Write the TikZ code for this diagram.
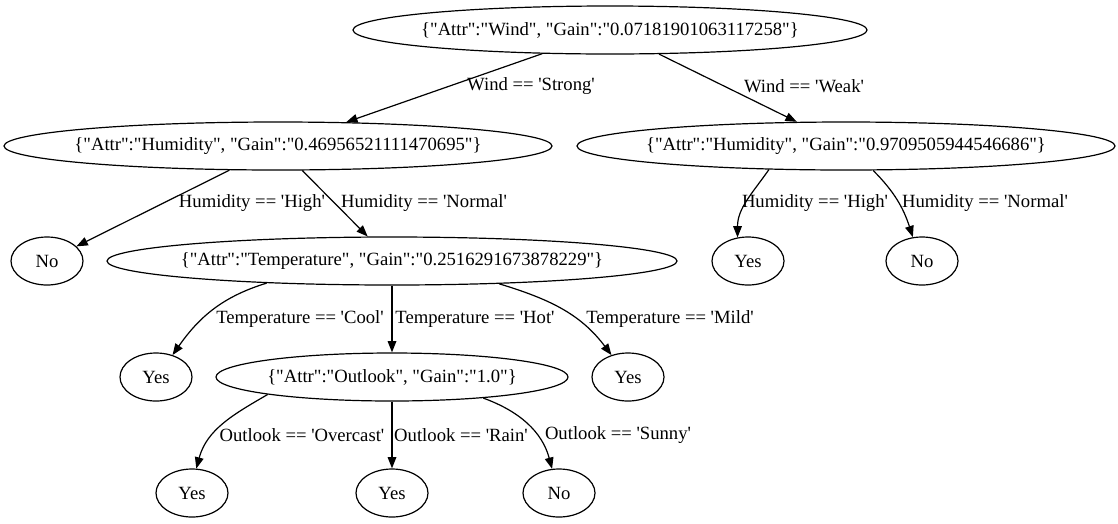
\documentclass[tikz,border=0pt]{standalone}
\usepackage{fontspec}
\setmainfont[Ligatures=TeXOff]{Liberation Serif}
\usetikzlibrary{arrows.meta, shapes.geometric}

\begin{document}
\begin{tikzpicture}[
    x=0.75bp, y=-0.75bp,
    every node/.style={font=\rmfamily\fontsize{14bp}{16bp}\selectfont}, % Times-like text
    split/.style={draw, ellipse, line width=0.9bp, inner xsep=-40bp, inner ysep=0pt,
                  minimum height=36bp, minimum width=#1}, % attribute node
    leaf/.style={split=54bp}, % Yes / No
    cond/.style={inner sep=0pt}, % branch condition
    branch/.style={line width=0.9bp, -{Triangle[length=8.5bp, width=6.5bp]}}
]
    \useasboundingbox (0,0) rectangle (1118,523);

    % 1. attribute nodes
    \node[split=385.5bp] (wind) at (610,30) {\{"Attr":"Wind", "Gain":"0.07181901063117258"\}};
    \node[split=411bp] (humL) at (278,146) {\{"Attr":"Humidity", "Gain":"0.46956521111470695"\}};
    \node[split=403.5bp] (humR) at (846,146) {\{"Attr":"Humidity", "Gain":"0.9709505944546686"\}};
    \node[split=427.5bp] (temp) at (392,261) {\{"Attr":"Temperature", "Gain":"0.2516291673878229"\}};
    \node[split=264bp] (outlook) at (392,377) {\{"Attr":"Outlook", "Gain":"1.0"\}};

    % 2. leaves
    \node[leaf] (noHL) at (47,261) {No};
    \node[leaf] (yesHR) at (748,261) {Yes};
    \node[leaf] (noHR) at (922,261) {No};
    \node[leaf] (yesCool) at (156,377) {Yes};
    \node[leaf] (yesMild) at (628,377) {Yes};
    \node[leaf] (yesOver) at (192,493) {Yes};
    \node[leaf] (yesRain) at (392,493) {Yes};
    \node[leaf] (noSunny) at (559,493) {No};

    % 3. branches
    \draw[branch] (wind) -- (humL);
    \draw[branch] (wind) -- (humR);
    \draw[branch] (humL) -- (noHL);
    \draw[branch] (humL) -- (temp);
    \draw[branch] (humR.197) to[out=235, in=90] (yesHR.114);
    \draw[branch] (humR.318) to[out=-45, in=108] (noHR.111);
    \draw[branch] (temp.190) to[out=197, in=55] (yesCool.53);
    \draw[branch] (temp) -- (outlook);
    \draw[branch] (temp.348) to[out=-17, in=127] (yesMild.127);
    \draw[branch] (outlook.188) to[out=210, in=75] (yesOver.80);
    \draw[branch] (outlook) -- (yesRain);
    \draw[branch] (outlook.347) to[out=-20, in=105] (noSunny.106);

    % 4. conditions
    \node[cond] (cStrong) at (531,86) {Wind == 'Strong'};
    \node[cond] (cWeak) at (804,86) {Wind == 'Weak'};
    \node[cond] (cHighL) at (252,203) {Humidity == 'High'};
    \node[cond] (cNormalL) at (424,203) {Humidity == 'Normal'};
    \node[cond] (cHighR) at (815,203) {Humidity == 'High'};
    \node[cond] (cNormalR) at (985,203) {Humidity == 'Normal'};
    \node[cond] (cCool) at (300,319) {Temperature == 'Cool'};
    \node[cond] (cHot) at (475,319) {Temperature == 'Hot'};
    \node[cond] (cMild) at (670,319) {Temperature == 'Mild'};
    \node[cond] (cOver) at (302,435) {Outlook == 'Overcast'};
    \node[cond] (cRain) at (461,435) {Outlook == 'Rain'};
    \node[cond] (cSunny) at (618,435) {Outlook == 'Sunny'};
\end{tikzpicture}
\end{document}
